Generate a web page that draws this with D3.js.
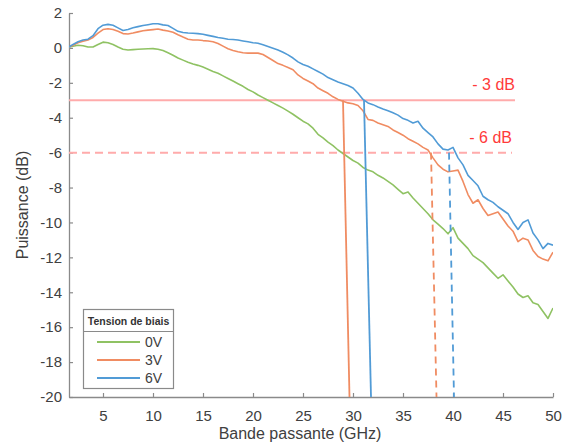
<!DOCTYPE html>
<html><head><meta charset="utf-8">
<script src="https://cdn.jsdelivr.net/npm/d3@7"></script>
<style>body{margin:0;background:#fff;} text{font-family:Arial,"Liberation Sans",sans-serif;}</style>
</head><body>
<svg id="c" width="567" height="444"></svg>
<script>
const freq = [1.6,2,2.5,3,3.5,4,4.5,5,5.5,6,6.5,7,7.5,8,8.5,9,9.5,10,10.5,11,11.5,12,12.5,13,13.5,14,14.5,15,15.5,16,16.5,17,17.5,18,18.5,19,19.5,20,20.5,21,21.5,22,22.5,23,23.5,24,24.5,25,25.5,26,26.5,27,27.5,28,28.5,29,29.5,30,30.5,31,31.5,32,32.5,33,33.5,34,34.5,35,35.5,36,36.5,37,37.5,38,38.5,39,39.5,40,40.5,41,41.5,42,42.5,43,43.5,44,44.5,45,45.5,46,46.5,47,47.5,48,48.5,49,49.5,50];
const v0V = [0.05,0.1,0.15,0.12,0.05,0.05,0.2,0.33,0.3,0.2,0.05,-0.08,-0.12,-0.1,-0.08,-0.06,-0.05,-0.04,-0.08,-0.15,-0.28,-0.42,-0.58,-0.7,-0.82,-0.92,-1.0,-1.1,-1.22,-1.35,-1.45,-1.6,-1.75,-1.9,-2.05,-2.2,-2.38,-2.52,-2.7,-2.85,-3.0,-3.15,-3.3,-3.45,-3.62,-3.8,-4.0,-4.2,-4.35,-4.6,-4.95,-5.15,-5.4,-5.6,-5.85,-6.05,-6.25,-6.45,-6.6,-6.85,-7.0,-7.1,-7.3,-7.45,-7.65,-7.85,-8.1,-8.35,-8.25,-8.6,-8.9,-9.2,-9.5,-9.85,-10.1,-10.35,-10.65,-10.3,-10.9,-11.2,-11.5,-11.9,-12.1,-12.3,-12.6,-12.9,-13.2,-13.0,-13.35,-13.7,-14.1,-14.3,-14.2,-14.6,-14.7,-15.1,-15.5,-14.9];
const v3V = [0.05,0.15,0.3,0.38,0.45,0.6,0.85,1.05,1.1,1.05,0.95,0.82,0.8,0.85,0.92,0.98,1.02,1.05,1.08,1.02,0.97,0.9,0.75,0.62,0.5,0.45,0.45,0.42,0.4,0.35,0.25,0.1,-0.05,-0.15,-0.22,-0.28,-0.3,-0.3,-0.3,-0.38,-0.55,-0.72,-0.9,-1.0,-1.12,-1.25,-1.55,-1.75,-1.9,-2.05,-2.3,-2.45,-2.6,-2.8,-2.95,-3.05,-3.15,-3.2,-3.3,-3.6,-4.1,-4.15,-4.3,-4.4,-4.5,-4.7,-4.85,-5.0,-5.2,-5.35,-5.5,-5.7,-5.85,-6.3,-6.7,-6.95,-7.1,-7.05,-7.0,-7.65,-8.4,-8.9,-8.7,-9.2,-9.6,-9.5,-9.4,-9.8,-10.2,-10.5,-11.1,-10.9,-11.0,-11.6,-11.95,-12.1,-12.2,-11.7];
const v6V = [0.05,0.2,0.35,0.45,0.5,0.7,1.1,1.3,1.35,1.3,1.15,1.0,1.05,1.15,1.22,1.28,1.33,1.38,1.38,1.32,1.28,1.12,0.95,0.88,0.85,0.84,0.82,0.78,0.72,0.66,0.6,0.55,0.5,0.48,0.45,0.4,0.35,0.3,0.27,0.18,0.08,-0.02,-0.12,-0.25,-0.4,-0.58,-0.8,-0.95,-1.05,-1.2,-1.35,-1.5,-1.7,-1.82,-1.95,-2.05,-2.15,-2.3,-2.6,-2.95,-3.15,-3.25,-3.38,-3.5,-3.6,-3.72,-3.85,-4.05,-4.15,-4.3,-4.2,-4.6,-4.85,-5.1,-5.5,-5.8,-5.85,-5.7,-6.3,-6.7,-7.3,-7.6,-7.9,-8.5,-8.7,-8.85,-9.1,-9.3,-9.5,-10.0,-10.4,-10.0,-9.85,-10.6,-11.0,-11.5,-11.2,-11.3];
const seriesNames = ["0V","3V","6V"];
const seriesColors = ["#8fc263","#f08c62","#519bd6"];
const xTicks = [5,10,15,20,25,30,35,40,45,50];
const yTicks = [2,0,-2,-4,-6,-8,-10,-12,-14,-16,-18,-20];
const thresholds = [-3,-6];
const thresholdLabels = ["- 3 dB","- 6 dB"];
const thresholdEnd = [46.2,45.9];
// cut-off verticals: [freq at threshold, freq at bottom]
const cutTop = [29.0,31.1,37.8,39.6];
const cutBottom = [29.65,31.8,38.35,40.1];
const cutLevel = [-3,-3,-6,-6];
const cutSeries = [1,2,1,2];

const svg = d3.select("#c");
const x = d3.scaleLinear().domain([1.6,50]).range([69,553]);
const y = d3.scaleLinear().domain([-20,2]).range([397,13]);
const axisColor = "#8a8a8a", textColor = "#404040";

svg.append("defs").append("clipPath").attr("id","clip")
  .append("rect").attr("x",69).attr("y",13).attr("width",484).attr("height",384);

// axes
const xa = svg.append("g").attr("transform","translate(0,397)")
  .call(d3.axisBottom(x).tickValues(xTicks).tickFormat(d=>String(d)).tickSizeInner(-4).tickSizeOuter(0).tickPadding(10));
const ya = svg.append("g").attr("transform","translate(69,0)")
  .call(d3.axisLeft(y).tickValues(yTicks).tickFormat(d=>String(d)).tickSizeInner(-4).tickSizeOuter(0).tickPadding(7));
[xa,ya].forEach(g=>{
  g.select(".domain").attr("stroke",axisColor).attr("stroke-width",1.3);
  g.selectAll(".tick line").attr("stroke",axisColor).attr("stroke-width",1.2);
  g.selectAll(".tick text").attr("fill",textColor).style("font-size","15px").style("font-family","Arial, 'Liberation Sans', sans-serif");
});
xa.selectAll(".tick text").attr("dy","0.9em");

svg.append("text").attr("x",300).attr("y",439).attr("text-anchor","middle")
  .attr("fill",textColor).style("font-size","16px").text("Bande passante (GHz)");
svg.append("text").attr("transform","translate(28,205) rotate(-90)").attr("text-anchor","middle")
  .attr("fill",textColor).style("font-size","16px").text("Puissance (dB)");

const plot = svg.append("g").attr("clip-path","url(#clip)");

// threshold lines
thresholds.forEach((t,i)=>{
  plot.append("line").attr("x1",x(1.6)).attr("x2",x(thresholdEnd[i]))
    .attr("y1",y(t)).attr("y2",y(t))
    .attr("stroke","#ffabab").attr("stroke-width",2)
    .attr("stroke-dasharray", i===1 ? "8,5" : null);
  svg.append("text").attr("x",x(thresholdEnd[i])).attr("y",y(t)-10)
    .attr("text-anchor","end").attr("fill","#ff3a3a").style("font-size","16px").text(thresholdLabels[i]);
});

// series lines
const vals = [v0V,v3V,v6V];
const line = d3.line().x((d,i)=>x(freq[i])).y(d=>y(d));
vals.forEach((v,k)=>{
  plot.append("path").datum(v).attr("d",line).attr("fill","none")
    .attr("stroke",seriesColors[k]).attr("stroke-width",1.6).attr("stroke-linejoin","round");
});

// cut-off verticals
cutTop.forEach((f,i)=>{
  plot.append("line").attr("x1",x(f)).attr("y1",y(cutLevel[i]))
    .attr("x2",x(cutBottom[i])).attr("y2",y(-20))
    .attr("stroke",seriesColors[cutSeries[i]]).attr("stroke-width",1.8)
    .attr("stroke-dasharray", cutLevel[i]===-6 ? "7,5" : null);
});

// legend
const lg = svg.append("g");
lg.append("rect").attr("x",83.5).attr("y",309.5).attr("width",90).attr("height",79)
  .attr("fill","#fff").attr("stroke","#8a8a8a").attr("stroke-width",1.2);
lg.append("line").attr("x1",83.5).attr("x2",173.5).attr("y1",331.5).attr("y2",331.5)
  .attr("stroke","#8a8a8a").attr("stroke-width",1.2);
lg.append("text").attr("x",128.5).attr("y",325).attr("text-anchor","middle")
  .attr("fill","#333").style("font-size","10.5px").style("font-weight","bold").text("Tension de biais");
seriesNames.forEach((n,k)=>{
  const yy = 342 + k*18;
  lg.append("line").attr("x1",97).attr("x2",140).attr("y1",yy).attr("y2",yy)
    .attr("stroke",seriesColors[k]).attr("stroke-width",1.8);
  lg.append("text").attr("x",145).attr("y",yy+5).attr("fill",textColor)
    .style("font-size","14px").text(n);
});
</script>
</body></html>
